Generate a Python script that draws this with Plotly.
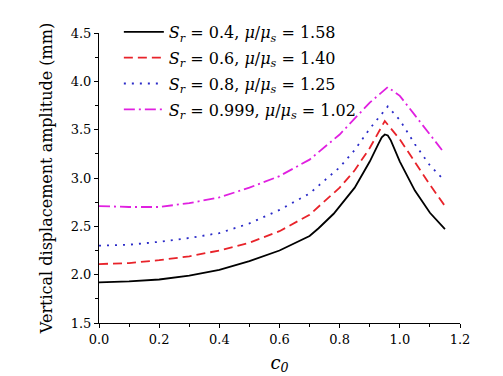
import plotly.graph_objects as go

# c0 values and vertical displacement amplitude (mm) for each case
c0_a = [0.0, 0.1, 0.2, 0.3, 0.4, 0.5, 0.6, 0.7, 0.73, 0.78, 0.85, 0.9, 0.93, 0.94, 0.95, 0.96, 0.97, 1.0, 1.05, 1.1, 1.15]
amp_a = [1.92, 1.93, 1.95, 1.99, 2.05, 2.14, 2.25, 2.40, 2.48, 2.63, 2.90, 3.17, 3.36, 3.42, 3.45, 3.44, 3.39, 3.17, 2.87, 2.64, 2.47]

c0_b = [0.0, 0.1, 0.2, 0.3, 0.4, 0.5, 0.6, 0.7, 0.8, 0.85, 0.9, 0.95, 1.0, 1.05, 1.1, 1.15]
amp_b = [2.11, 2.12, 2.15, 2.19, 2.25, 2.33, 2.45, 2.62, 2.90, 3.08, 3.31, 3.59, 3.40, 3.16, 2.93, 2.71]

c0_c = [0.0, 0.1, 0.2, 0.3, 0.4, 0.5, 0.6, 0.7, 0.8, 0.85, 0.9, 0.96, 1.0, 1.05, 1.1, 1.14]
amp_c = [2.30, 2.31, 2.34, 2.38, 2.43, 2.53, 2.67, 2.84, 3.11, 3.29, 3.51, 3.74, 3.60, 3.35, 3.13, 3.00]

c0_d = [0.0, 0.1, 0.2, 0.3, 0.4, 0.5, 0.6, 0.7, 0.8, 0.9, 0.96, 1.0, 1.05, 1.1, 1.14]
amp_d = [2.71, 2.70, 2.70, 2.74, 2.80, 2.90, 3.02, 3.19, 3.45, 3.78, 3.94, 3.85, 3.65, 3.45, 3.29]

names = [
    "<i>S</i><sub><i>r</i></sub> = 0.4, <i>μ</i>/<i>μ</i><sub><i>s</i></sub> = 1.58",
    "<i>S</i><sub><i>r</i></sub> = 0.6, <i>μ</i>/<i>μ</i><sub><i>s</i></sub> = 1.40",
    "<i>S</i><sub><i>r</i></sub> = 0.8, <i>μ</i>/<i>μ</i><sub><i>s</i></sub> = 1.25",
    "<i>S</i><sub><i>r</i></sub> = 0.999, <i>μ</i>/<i>μ</i><sub><i>s</i></sub> = 1.02",
]
colors = ["#000000", "#e8232a", "#2b2bc8", "#e020e0"]
dashes = ["solid", "9px,5px", "2px,6px", "11px,4px,2px,4px"]

series = [(c0_a, amp_a), (c0_b, amp_b), (c0_c, amp_c), (c0_d, amp_d)]

fig = go.Figure()
for i, ((xs, ys), nm, col, ds) in enumerate(zip(series, names, colors, dashes)):
    fig.add_trace(go.Scatter(x=xs, y=ys, mode="lines", name=nm, legendgroup=f"g{i}",
                             line=dict(color=col, width=1.8, dash=ds)))

font_family = "DejaVu Serif"
fig.update_layout(
    width=503, height=376,
    margin=dict(l=91, r=51, t=25, b=61, autoexpand=False),
    paper_bgcolor="white", plot_bgcolor="white",
    font=dict(family=font_family, size=13, color="black"),
    showlegend=True,
    legend=dict(x=0.055, y=1.062, xanchor="left", yanchor="top",
                bgcolor="rgba(0,0,0,0)", font=dict(size=16, family=font_family),
                tracegroupgap=2, itemwidth=40),
    xaxis=dict(range=[0, 1.2], tick0=0, dtick=0.2, tickformat=".1f",
               showline=True, linecolor="black", linewidth=1,
               ticks="outside", ticklen=4, tickcolor="black", tickwidth=1,
               minor=dict(dtick=0.1, ticks="outside", ticklen=3, tickcolor="black"),
               showgrid=False, zeroline=False, mirror=False,
               tickfont=dict(size=13, family=font_family),
               title=dict(text="<i>c</i><sub><i>0</i></sub>", font=dict(size=18, family=font_family), standoff=10)),
    yaxis=dict(range=[1.5, 4.5], tick0=1.5, dtick=0.5, tickformat=".1f",
               showline=True, linecolor="black", linewidth=1,
               ticks="outside", ticklen=4, tickcolor="black", tickwidth=1,
               minor=dict(dtick=0.25, ticks="outside", ticklen=3, tickcolor="black"),
               showgrid=False, zeroline=False, mirror=False,
               tickfont=dict(size=13, family=font_family),
               title=dict(text="Vertical displacement amplitude (mm)", font=dict(size=16, family=font_family), standoff=14)),
)

fig.write_html("out.html")
